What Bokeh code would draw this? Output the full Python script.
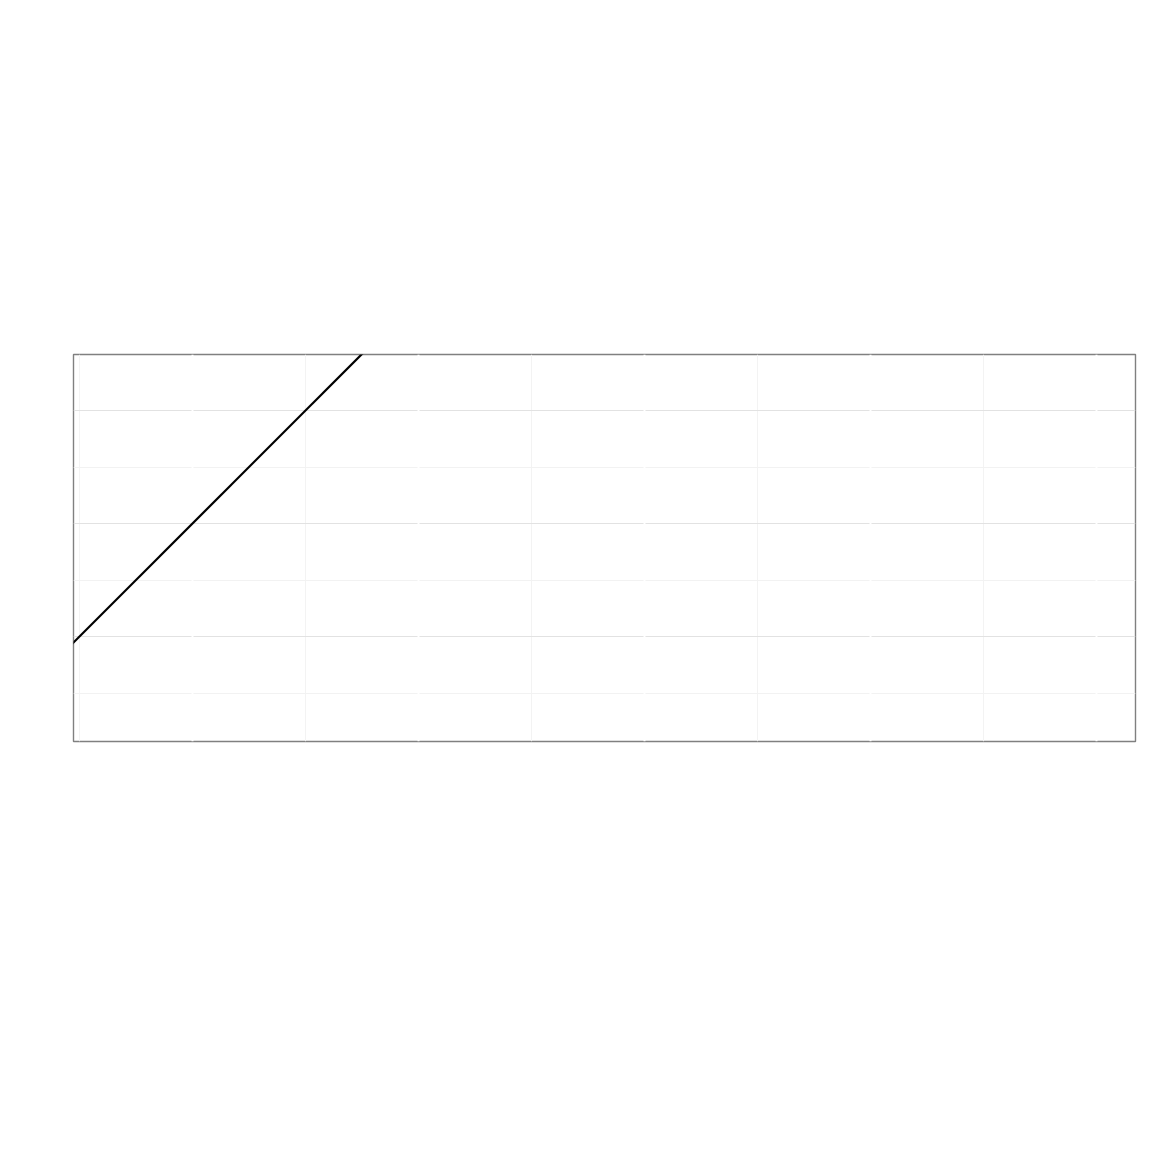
from bokeh.plotting import figure
from bokeh.models import FixedTicker, Grid, Range1d
from bokeh.embed import file_html
from bokeh.resources import INLINE

# data
line_x = [-1, 3]
line_y = [-2, 6]
x_major = [0, 1, 2, 3, 4]
x_minor = [0.5, 1.5, 2.5, 3.5, 4.5]
y_major = [0, 1, 2]
y_minor = [-0.5, 0.5, 1.5]

p = figure(width=1144, height=1144, output_backend="svg", toolbar_location=None,
           x_range=Range1d(-0.0265, 4.673), y_range=Range1d(-0.929, 2.496),
           min_border_left=73, min_border_right=9, min_border_top=354, min_border_bottom=403)
p.xaxis.visible = False
p.yaxis.visible = False
p.background_fill_color = "white"
p.border_fill_color = "white"
p.outline_line_color = "#808080"
p.outline_line_width = 1.4

p.xgrid.ticker = FixedTicker(ticks=x_major)
p.xgrid.grid_line_color = "#f3f3f3"
p.ygrid.ticker = FixedTicker(ticks=y_major, minor_ticks=y_minor)
p.ygrid.grid_line_color = "#e2e2e2"
p.ygrid.minor_grid_line_color = "#f2f2f2"

wgrid = Grid(dimension=0, ticker=FixedTicker(ticks=x_minor), grid_line_color="white", grid_line_width=2)
p.add_layout(wgrid)

p.line(line_x, line_y, line_color="black", line_width=2.2)

open("out.html", "w").write(file_html(p, INLINE))
